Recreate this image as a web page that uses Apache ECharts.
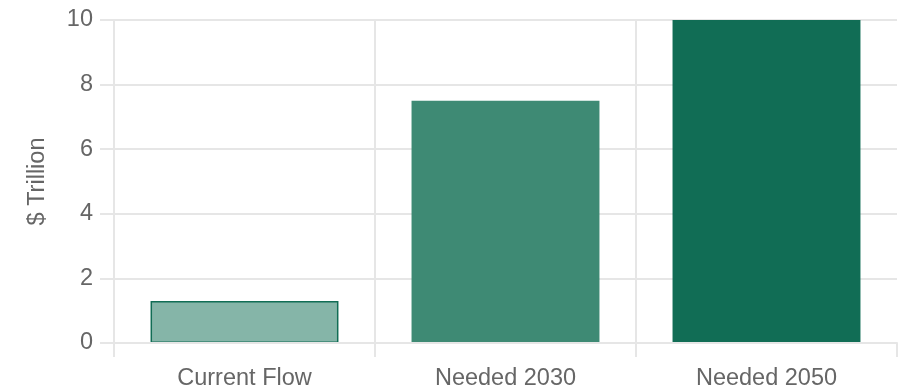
<!DOCTYPE html>
<html>
<head>
<meta charset="utf-8">
<script src="https://cdn.jsdelivr.net/npm/echarts@6/dist/echarts.min.js"></script>
<style>
  html, body { margin: 0; padding: 0; background: #fff; }
  #chart { width: 907px; height: 391px; }
</style>
</head>
<body>
<div id="chart"></div>
<script>
// data
var categories = ['Current Flow', 'Needed 2030', 'Needed 2050'];
var values = [1.3, 7.5, 10];
var yTicks = { min: 0, max: 10, step: 2 };

// look
var fills = ['#85b5a8', '#3e8a74', '#116d55'];
var edge = '#116d55';
var gridColor = '#e6e6e6';
var textColor = '#666666';
var font = 'Liberation Sans, Arial, sans-serif';

var chart = echarts.init(document.getElementById('chart'));

chart.setOption({
  animation: false,
  grid: { left: 114, right: 10, top: 20, bottom: 48 },
  xAxis: {
    type: 'category',
    data: categories,
    z: 5,
    axisLine: { show: true, lineStyle: { color: gridColor, width: 2 } },
    axisTick: { show: true, length: 14, lineStyle: { color: gridColor, width: 2 } },
    axisLabel: { color: textColor, fontSize: 23.5, fontFamily: font, margin: 24 },
    splitLine: { show: true, showMaxLine: false, lineStyle: { color: gridColor, width: 2 } }
  },
  yAxis: {
    type: 'value',
    min: yTicks.min,
    max: yTicks.max,
    interval: yTicks.step,
    name: '$ Trillion',
    nameLocation: 'middle',
    nameGap: 64,
    nameRotate: 90,
    nameTextStyle: { color: textColor, fontSize: 23.5, fontFamily: font },
    axisLine: { show: true, lineStyle: { color: gridColor, width: 2 } },
    axisTick: { show: true, length: 14, lineStyle: { color: gridColor, width: 2 } },
    axisLabel: { color: textColor, fontSize: 23.5, fontFamily: font, margin: 21 },
    splitLine: { show: true, lineStyle: { color: gridColor, width: 2 } }
  },
  series: [{
    type: 'bar',
    barWidth: '72%',
    data: values.map(function (v, i) {
      return {
        value: v,
        itemStyle: { color: fills[i], borderColor: edge, borderWidth: i === 0 ? 1.5 : 0 }
      };
    })
  }]
});
</script>
</body>
</html>
